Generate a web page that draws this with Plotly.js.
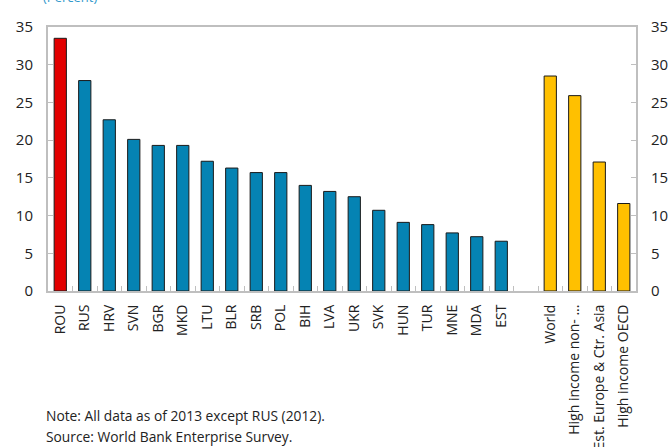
<!DOCTYPE html>
<html>
<head>
<meta charset="utf-8">
<script src="https://cdn.plot.ly/plotly-3.0.1.min.js"></script>
<style>html,body{margin:0;padding:0;background:#fff}#chart{width:668px;height:447px}</style>
</head>
<body>
<div id="chart"></div>
<script>
const highlightCountry = ["ROU"];
const highlightValue = [33.5];
const countries = ["RUS","HRV","SVN","BGR","MKD","LTU","BLR","SRB","POL","BIH","LVA","UKR","SVK","HUN","TUR","MNE","MDA","EST"];
const countryValues = [27.9,22.7,20.1,19.3,19.3,17.2,16.3,15.7,15.7,14.0,13.2,12.5,10.7,9.1,8.8,7.7,7.2,6.6];
const aggregates = ["World","High income non- ...","Est. Europe & Ctr. Asia","High income OECD"];
const aggregateValues = [28.5,25.9,17.1,11.6];
const gapLabel = [" "];
const yTicks = [0,5,10,15,20,25,30,35];

const categoryOrder = highlightCountry.concat(countries, gapLabel, aggregates);
const font = "Open Sans, Segoe UI, sans-serif";
const outline = {color: "#1a1a1a", width: 1};

const traces = [
  {type: "bar", x: highlightCountry, y: highlightValue, width: 0.5,
   marker: {color: "#E20000", line: outline}, hoverinfo: "x+y"},
  {type: "bar", x: countries, y: countryValues, width: 0.5,
   marker: {color: "#0583B3", line: outline}, hoverinfo: "x+y"},
  {type: "bar", x: aggregates, y: aggregateValues, width: 0.5,
   marker: {color: "#FFC000", line: outline}, hoverinfo: "x+y"},
  {type: "scatter", x: [categoryOrder[0]], y: [null], yaxis: "y2", showlegend: false, hoverinfo: "skip"}
];

const yCommon = {
  range: [0, 35], tickvals: yTicks, ticks: "inside", ticklen: 5, tickcolor: "#BFBFBF",
  showgrid: false, zeroline: false, showline: true, linecolor: "#BFBFBF", linewidth: 2,
  tickfont: {family: font, size: 15, color: "#222"}, fixedrange: true
};

const layout = {
  width: 668, height: 447,
  margin: {l: 48, r: 32, t: 27, b: 156},
  paper_bgcolor: "#fff", plot_bgcolor: "#fff",
  barmode: "overlay", showlegend: false,
  font: {family: font, color: "#222"},
  xaxis: {
    type: "category", categoryorder: "array", categoryarray: categoryOrder,
    range: [-0.5, categoryOrder.length - 0.5],
    tickangle: -90, tickson: "boundaries", ticks: "inside", ticklen: 5, tickcolor: "#BFBFBF",
    showline: true, linecolor: "#BFBFBF", linewidth: 2, mirror: true,
    showgrid: false, tickfont: {family: font, size: 14, color: "#222"}, ticklabelstandoff: 6
  },
  yaxis: Object.assign({}, yCommon, {ticklabelstandoff: 10}),
  yaxis2: Object.assign({}, yCommon, {overlaying: "y", side: "right", ticklabelstandoff: 10}),
  annotations: [
    {text: "(Percent)", xref: "paper", yref: "paper", x: 0.037, y: 1.114, xanchor: "center", yanchor: "middle",
     showarrow: false, font: {family: font, size: 13, color: "#3399CC"}},
    {text: "Note: All data as of 2013 except RUS (2012).", xref: "paper", yref: "paper", x: -0.0068, y: -0.473,
     xanchor: "left", yanchor: "middle", showarrow: false, font: {family: font, size: 13.8, color: "#222"}},
    {text: "Source: World Bank Enterprise Survey.", xref: "paper", yref: "paper", x: -0.0068, y: -0.553,
     xanchor: "left", yanchor: "middle", showarrow: false, font: {family: font, size: 13.8, color: "#222"}}
  ]
};

Plotly.newPlot("chart", traces, layout, {displayModeBar: false, staticPlot: true});
</script>
</body>
</html>
